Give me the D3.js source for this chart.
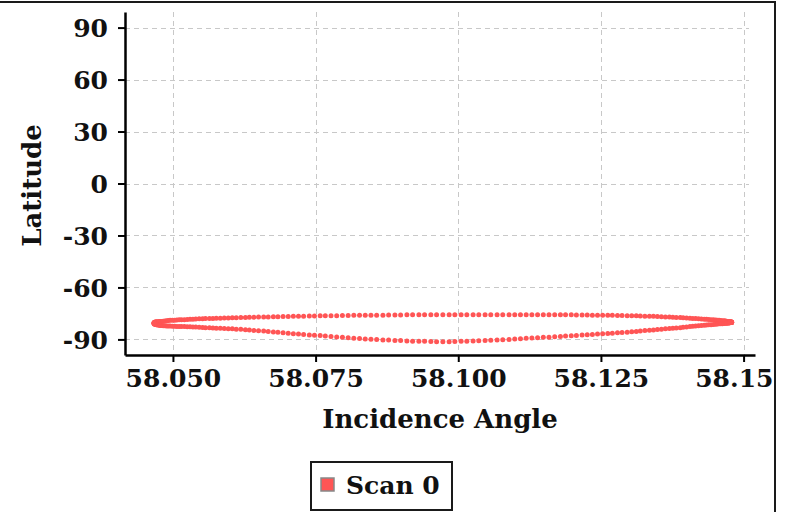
<!DOCTYPE html>
<html>
<head>
<meta charset="utf-8">
<script src="https://cdn.jsdelivr.net/npm/d3@7"></script>
<style>
  html, body { margin: 0; padding: 0; background: #fff; }
  svg { display: block; }
  text { font-family: "DejaVu Serif", serif; font-weight: bold; fill: #111; }
</style>
</head>
<body>
<svg id="chart" width="789" height="512"></svg>
<script>
// Scan 0: incidence angle (deg) sampled along the scan; the upper arc runs
// left to right and the lower arc returns right to left over the same angles.
const incidence = [
  58.0467,58.0467,58.0467,58.0468,58.0469,58.0470,58.0471,58.0472,58.0474,58.0476,
  58.0478,58.0480,58.0483,58.0486,58.0489,58.0492,58.0495,58.0499,58.0503,58.0507,
  58.0511,58.0515,58.0520,58.0525,58.0530,58.0535,58.0540,58.0546,58.0552,58.0557,
  58.0564,58.0570,58.0576,58.0583,58.0590,58.0597,58.0604,58.0611,58.0619,58.0627,
  58.0634,58.0642,58.0650,58.0659,58.0667,58.0676,58.0684,58.0693,58.0702,58.0711,
  58.0720,58.0729,58.0739,58.0748,58.0758,58.0767,58.0777,58.0787,58.0797,58.0807,
  58.0817,58.0827,58.0837,58.0847,58.0857,58.0868,58.0878,58.0889,58.0899,58.0910,
  58.0920,58.0931,58.0941,58.0952,58.0962,58.0973,58.0984,58.0994,58.1005,58.1015,
  58.1026,58.1036,58.1047,58.1057,58.1068,58.1078,58.1089,58.1099,58.1109,58.1119,
  58.1129,58.1139,58.1149,58.1159,58.1169,58.1179,58.1188,58.1198,58.1207,58.1217,
  58.1226,58.1235,58.1244,58.1253,58.1262,58.1270,58.1279,58.1287,58.1296,58.1304,
  58.1312,58.1319,58.1327,58.1335,58.1342,58.1349,58.1356,58.1363,58.1370,58.1376,
  58.1382,58.1389,58.1394,58.1400,58.1406,58.1411,58.1416,58.1421,58.1426,58.1431,
  58.1435,58.1439,58.1443,58.1447,58.1451,58.1454,58.1457,58.1460,58.1463,58.1466,
  58.1468,58.1470,58.1472,58.1474,58.1475,58.1476,58.1477,58.1478,58.1479,58.1479,
  58.1479
];

// Latitude (deg) on the upper arc, one value per incidence sample.
const latUpper = [
  -80.6,-80.4,-80.2,-80.1,-80.0,-79.9,-79.9,-79.8,-79.8,-79.7,
  -79.7,-79.6,-79.5,-79.4,-79.3,-79.1,-79.0,-79.0,-78.9,-78.8,
  -78.7,-78.6,-78.6,-78.5,-78.4,-78.3,-78.2,-78.1,-78.1,-78.0,
  -77.9,-77.9,-77.8,-77.8,-77.7,-77.6,-77.5,-77.5,-77.4,-77.3,
  -77.2,-77.2,-77.1,-77.1,-77.0,-76.9,-76.9,-76.8,-76.8,-76.7,
  -76.6,-76.6,-76.5,-76.5,-76.4,-76.4,-76.3,-76.3,-76.2,-76.2,
  -76.1,-76.1,-76.1,-76.0,-76.0,-76.0,-75.9,-75.9,-75.9,-75.8,
  -75.8,-75.8,-75.8,-75.8,-75.8,-75.8,-75.8,-75.7,-75.7,-75.7,
  -75.7,-75.7,-75.7,-75.7,-75.7,-75.7,-75.7,-75.7,-75.7,-75.7,
  -75.7,-75.7,-75.7,-75.8,-75.8,-75.8,-75.8,-75.8,-75.9,-75.9,
  -75.9,-76.0,-76.0,-76.0,-76.1,-76.1,-76.2,-76.2,-76.3,-76.3,
  -76.4,-76.5,-76.6,-76.6,-76.7,-76.8,-76.9,-77.0,-77.1,-77.2,
  -77.3,-77.4,-77.5,-77.6,-77.8,-77.9,-78.0,-78.1,-78.2,-78.3,
  -78.4,-78.5,-78.6,-78.7,-78.8,-78.9,-79.0,-79.1,-79.2,-79.3,
  -79.4,-79.5,-79.6,-79.7,-79.7,-79.8,-79.8,-79.9,-79.9,-80.0,
  -80.1
];

// Latitude (deg) on the lower arc, one value per incidence sample.
const latLower = [
  -80.6,-80.8,-81.0,-81.2,-81.3,-81.4,-81.5,-81.6,-81.7,-81.8,
  -81.9,-82.0,-82.1,-82.1,-82.2,-82.3,-82.3,-82.4,-82.4,-82.5,
  -82.5,-82.6,-82.6,-82.7,-82.7,-82.8,-82.9,-83.0,-83.1,-83.2,
  -83.3,-83.4,-83.5,-83.6,-83.7,-83.8,-83.9,-84.1,-84.2,-84.4,
  -84.6,-84.8,-85.0,-85.2,-85.5,-85.7,-85.9,-86.2,-86.4,-86.7,
  -86.9,-87.1,-87.4,-87.6,-87.8,-88.1,-88.3,-88.6,-88.8,-89.1,
  -89.3,-89.5,-89.7,-89.9,-90.1,-90.3,-90.4,-90.6,-90.7,-90.9,
  -91.0,-91.1,-91.1,-91.2,-91.3,-91.3,-91.3,-91.2,-91.1,-91.0,
  -90.9,-90.8,-90.7,-90.5,-90.4,-90.2,-90.0,-89.8,-89.6,-89.4,
  -89.2,-89.0,-88.8,-88.7,-88.5,-88.3,-88.1,-87.9,-87.7,-87.5,
  -87.3,-87.1,-86.9,-86.8,-86.6,-86.4,-86.2,-86.0,-85.8,-85.6,
  -85.4,-85.2,-84.9,-84.7,-84.5,-84.3,-84.1,-83.9,-83.7,-83.6,
  -83.4,-83.2,-83.0,-82.8,-82.6,-82.4,-82.3,-82.1,-82.0,-81.8,
  -81.7,-81.6,-81.5,-81.4,-81.2,-81.1,-81.0,-80.9,-80.9,-80.8,
  -80.7,-80.6,-80.6,-80.5,-80.4,-80.4,-80.3,-80.3,-80.2,-80.2,
  -80.1
];

const xTicks = [58.05, 58.075, 58.1, 58.125, 58.15];
const xTickLabels = ["58.050", "58.075", "58.100", "58.125", "58.15"];
const yTicks = [-90, -60, -30, 0, 30, 60, 90];
const yTickLabels = ["-90", "-60", "-30", "0", "30", "60", "90"];
const xDomain = [58.0416, 58.152];
const yDomain = [-99, 99];
const seriesName = "Scan 0";
const xTitle = "Incidence Angle";
const yTitle = "Latitude";

const W = 789, H = 512;
const plot = { left: 125, right: 755, top: 12, bottom: 355 };
const frameRight = 775;
const dotColor = "#ff5555";

const svg = d3.select("#chart");
const root = svg.append("g");

const x = d3.scaleLinear().domain(xDomain).range([plot.left, plot.right]);
const y = d3.scaleLinear().domain(yDomain).range([plot.bottom, plot.top]);

// dashed grid
const grid = root.append("g").attr("stroke", "#c8c8c8").attr("stroke-width", 1)
  .attr("stroke-dasharray", "5,4").attr("fill", "none");
grid.selectAll("line.v").data(xTicks).join("line").attr("class", "v")
  .attr("x1", d => Math.round(x(d)) + 0.5).attr("x2", d => Math.round(x(d)) + 0.5)
  .attr("y1", plot.top).attr("y2", plot.bottom);
grid.selectAll("line.h").data(yTicks).join("line").attr("class", "h")
  .attr("x1", plot.left).attr("x2", plot.right - 6)
  .attr("y1", d => Math.round(y(d)) + 0.5).attr("y2", d => Math.round(y(d)) + 0.5);

// scan points: upper arc out, lower arc back
const pts = [];
incidence.forEach((a, i) => pts.push([a, latUpper[i]]));
for (let i = incidence.length - 1; i >= 0; i--) pts.push([incidence[i], latLower[i]]);

root.append("g").selectAll("circle").data(pts).join("circle")
  .attr("cx", d => x(d[0])).attr("cy", d => y(d[1])).attr("r", 2.5)
  .attr("fill", dotColor);

// axes
const tickFont = 25;
const xAxis = root.append("g").attr("transform", `translate(0,${plot.bottom})`)
  .call(d3.axisBottom(x).tickValues(xTicks).tickFormat((d, i) => xTickLabels[i])
    .tickSize(7).tickSizeOuter(0).tickPadding(7));
const yAxis = root.append("g").attr("transform", `translate(${plot.left},0)`)
  .call(d3.axisLeft(y).tickValues(yTicks).tickFormat((d, i) => yTickLabels[i])
    .tickSize(7).tickSizeOuter(0).tickPadding(10));
[xAxis, yAxis].forEach(g => {
  g.select(".domain").attr("stroke", "#000").attr("stroke-width", 2.5);
  g.selectAll(".tick line").attr("stroke", "#000").attr("stroke-width", 2);
  g.selectAll(".tick text").attr("font-family", "DejaVu Serif").attr("font-weight", "bold")
    .attr("font-size", tickFont).attr("fill", "#111");
});
yAxis.selectAll(".tick text").attr("dy", "0.36em");

// keep x labels inside the frame: pull any that overrun its right edge back in
xAxis.selectAll(".tick").each(function(d) {
  const t = d3.select(this).select("text");
  const bb = t.node().getBBox();
  const right = x(d) + bb.x + bb.width;
  const limit = frameRight - 2;
  if (right > limit) t.attr("dx", limit - right);
});

// axis titles
root.append("text").attr("x", (plot.left + plot.right) / 2).attr("y", 428)
  .attr("text-anchor", "middle").attr("font-size", 26).text(xTitle);
root.append("text").attr("transform", `translate(41,${(plot.top + plot.bottom) / 2 + 2}) rotate(-90)`)
  .attr("text-anchor", "middle").attr("font-size", 26).text(yTitle);

// legend
const lg = root.append("g").attr("transform", "translate(311,462)");
lg.append("rect").attr("width", 141).attr("height", 48)
  .attr("fill", "#fff").attr("stroke", "#1a1a1a").attr("stroke-width", 2);
lg.append("rect").attr("x", 10).attr("y", 16).attr("width", 13).attr("height", 13)
  .attr("fill", dotColor).attr("stroke", "#888").attr("stroke-width", 1.5);
lg.append("text").attr("x", 35).attr("y", 32).attr("font-size", 25).text(seriesName);

// panel frame (top and right edges)
svg.append("line").attr("x1", 0).attr("x2", frameRight + 1).attr("y1", 2).attr("y2", 2)
  .attr("stroke", "#1a1a1a").attr("stroke-width", 2);
svg.append("line").attr("x1", frameRight).attr("x2", frameRight).attr("y1", 1).attr("y2", H)
  .attr("stroke", "#1a1a1a").attr("stroke-width", 2);
</script>
</body>
</html>
